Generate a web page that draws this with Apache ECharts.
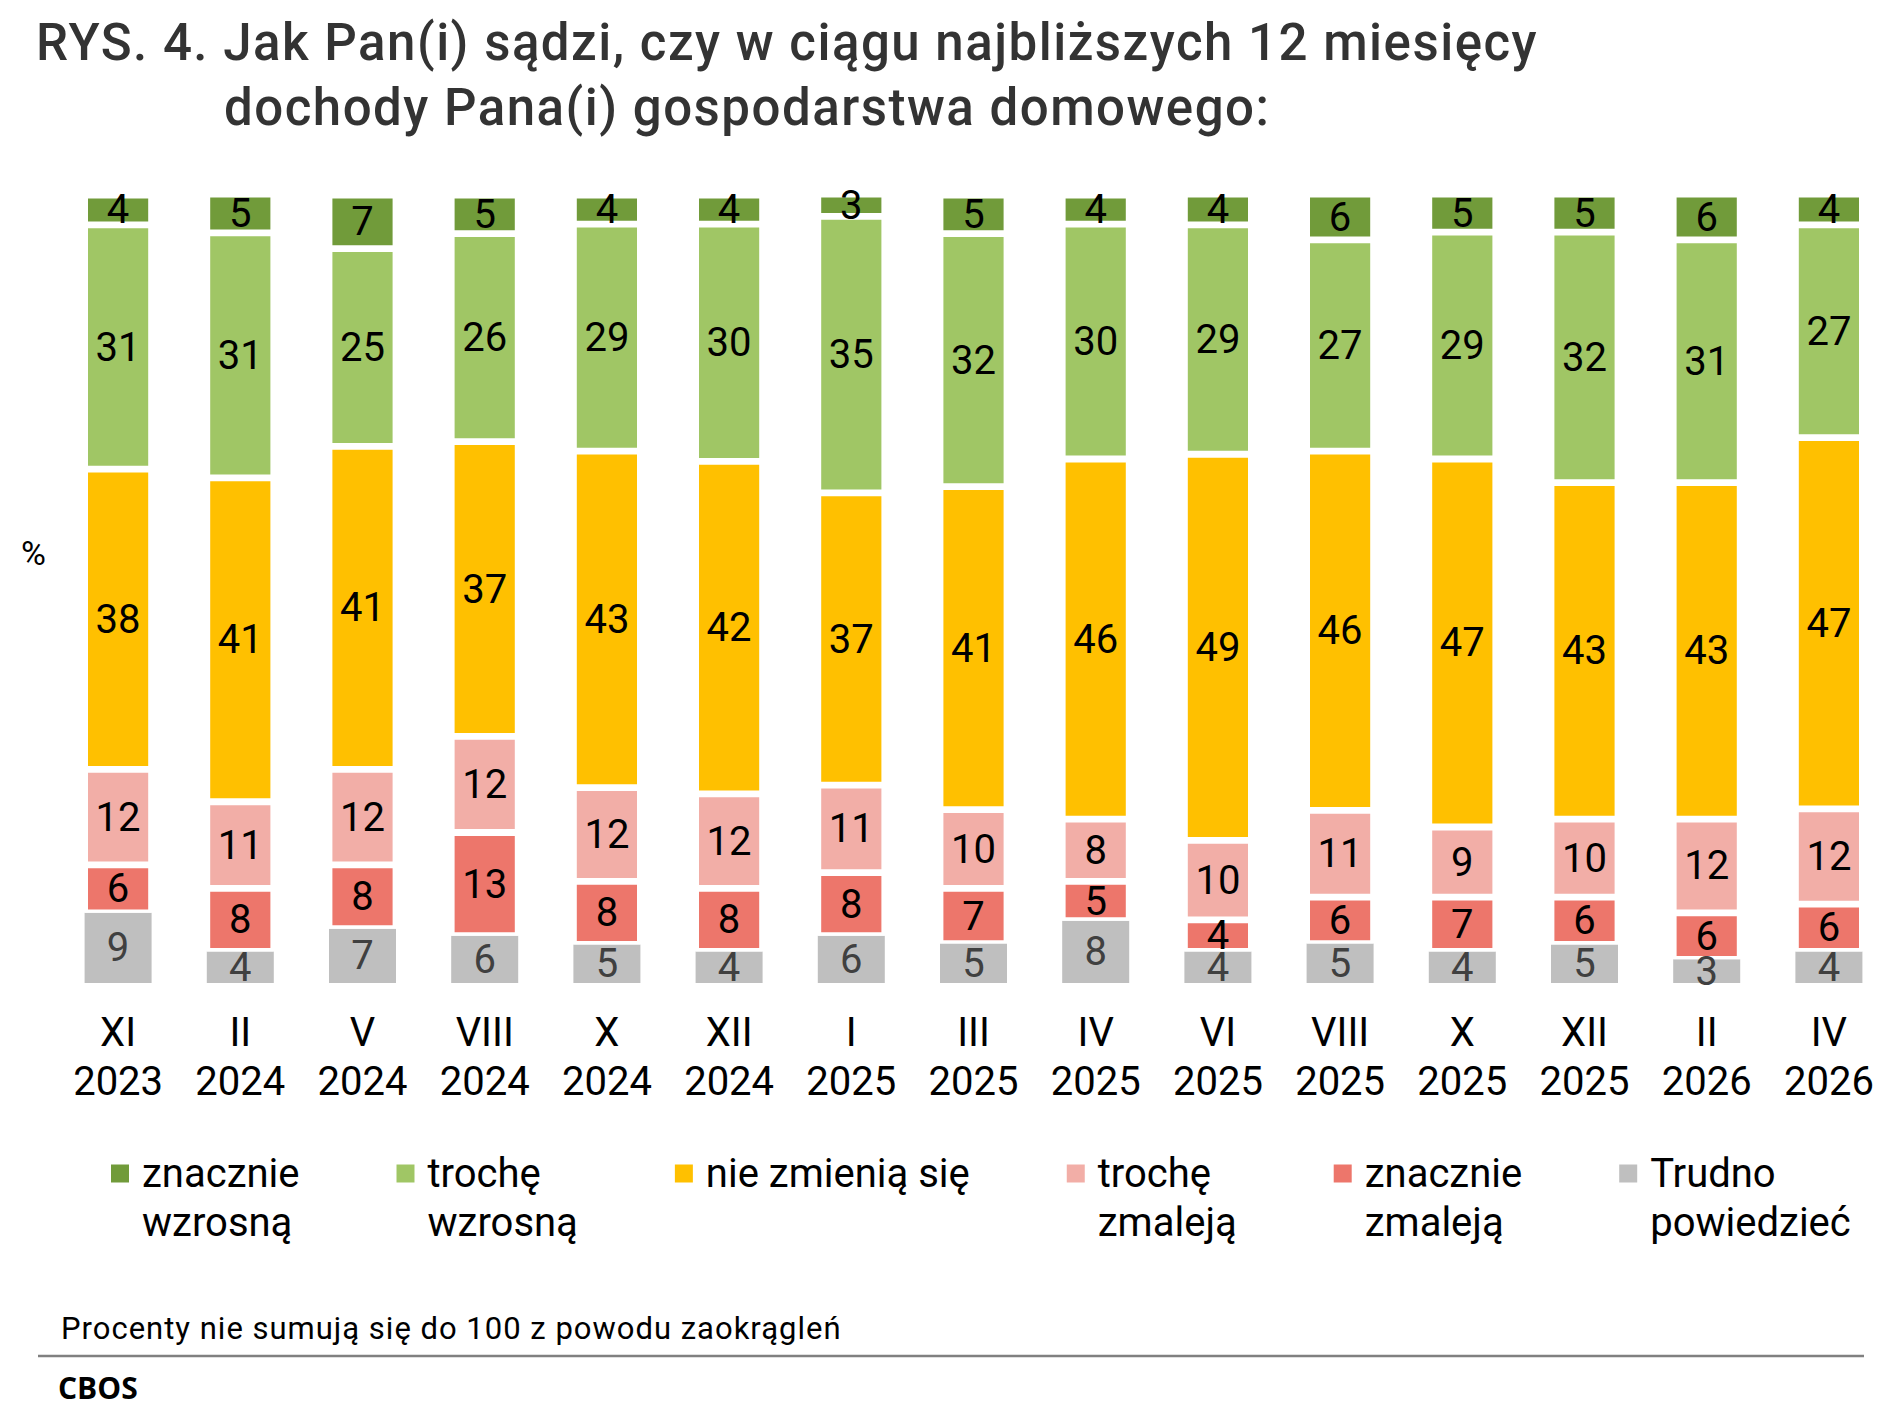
<!DOCTYPE html>
<html>
<head>
<meta charset="utf-8">
<script src="https://cdn.jsdelivr.net/npm/echarts@6/dist/echarts.min.js"></script>
<style>
  html, body { margin: 0; padding: 0; background: #fff; }
  #main { width: 1891px; height: 1416px; }
  /* tytuł i przypis w oryginale mają szerzej rozstawione litery */
  #main text[style*="51px"] { letter-spacing: 1.5px; }
  #main text[style*="31px"] { letter-spacing: 1px; }
</style>
</head>
<body>
<div id="main"></div>
<script>
// kategorie (miesiąc / rok badania)
const months = ['XI', 'II', 'V', 'VIII', 'X', 'XII', 'I', 'III', 'IV', 'VI', 'VIII', 'X', 'XII', 'II', 'IV']
const years = ['2023', '2024', '2024', '2024', '2024', '2024', '2025', '2025', '2025', '2025', '2025', '2025', '2025', '2026', '2026']

// odczytane udziały (%), etykiety pokazują wartości zaokrąglone
const znacznieWzrosna = [3.8, 4.9, 6.8, 4.9, 3.7, 3.7, 2.8, 4.9, 3.7, 3.9, 5.8, 4.8, 4.8, 5.8, 3.9]
const trocheWzrosna = [31.0, 31.1, 25.1, 26.4, 28.8, 30.1, 35.1, 32.1, 29.8, 29.1, 26.8, 28.8, 31.8, 30.8, 27.0]
const nieZmieniaSie = [38.1, 41.1, 41.0, 37.4, 42.7, 42.2, 37.1, 41.0, 45.7, 49.0, 45.6, 46.7, 42.7, 42.7, 47.1]
const trocheZmaleja = [12.1, 11.0, 12.1, 12.2, 11.9, 12.0, 11.1, 10.0, 7.9, 10.1, 11.0, 8.9, 9.9, 11.9, 12.1]
const znacznieZmaleja = [6.1, 8.0, 8.1, 13.1, 8.0, 8.0, 8.0, 7.0, 5.0, 4.0, 5.9, 6.9, 6.0, 5.9, 6.0]
const trudnoPowiedziec = [8.9, 4.0, 6.9, 6.0, 4.9, 4.0, 6.0, 5.0, 7.9, 4.0, 5.0, 4.0, 4.9, 3.0, 4.0]

// nazwy serii w kolejności legendy (od góry słupka)
const seriesNames = ['znacznie wzrosną', 'trochę wzrosną', 'nie zmienią się', 'trochę zmaleją', 'znacznie zmaleją', 'Trudno powiedzieć']
// pusta pierwsza linia -> znacznik legendy na wysokości pierwszego wiersza
const legendText = [' \nznacznie\nwzrosną', ' \ntrochę\nwzrosną', ' \nnie zmienią się\n ', ' \ntrochę\nzmaleją', ' \nznacznie\nzmaleją', ' \nTrudno\npowiedzieć']
const colors = ['#719B3A', '#A0C665', '#FFC000', '#F2AEA7', '#ED766B', '#BFBFBF']

const seriesData = [znacznieWzrosna, trocheWzrosna, nieZmieniaSie, trocheZmaleja, znacznieZmaleja, trudnoPowiedziec]

const font = 'Roboto'
const categories = months.map((m, i) => m + '\n' + years[i])

// stos rysowany od dołu: Trudno powiedzieć -> znacznie wzrosną
const series = []
for (let k = seriesNames.length - 1; k >= 0; k--) {
  const isGray = k === 5
  series.push({
    name: seriesNames[k],
    type: 'bar',
    stack: 'total',
    barWidth: 67,
    data: seriesData[k],
    itemStyle: {
      color: colors[k],
      borderColor: '#fff',
      borderWidth: isGray ? 0 : 3.4
    },
    label: {
      show: true,
      position: 'inside',
      fontFamily: font,
      fontSize: 40,
      color: isGray ? '#404040' : '#000',
      formatter: p => Math.round(p.value)
    }
  })
}

const chart = echarts.init(document.getElementById('main'), null, { renderer: 'svg' })
chart.setOption({
  backgroundColor: '#fff',
  animation: false,
  title: [
    {
      text: 'RYS. 4. Jak Pan(i) sądzi, czy w ciągu najbliższych 12 miesięcy',
      left: 36, top: 17, padding: 0,
      textStyle: { fontFamily: font, fontSize: 51, fontWeight: 500, color: '#333' }
    },
    {
      text: 'dochody Pana(i) gospodarstwa domowego:',
      left: 224, top: 82, padding: 0,
      textStyle: { fontFamily: font, fontSize: 51, fontWeight: 500, color: '#333' }
    }
  ],
  grid: { left: 57, right: 1, top: 195, bottom: 433 },
  xAxis: {
    type: 'category',
    data: categories,
    axisLine: { show: false },
    axisTick: { show: false },
    axisLabel: {
      interval: 0,
      margin: 25,
      fontFamily: font,
      fontSize: 40,
      lineHeight: 49,
      color: '#000'
    }
  },
  yAxis: {
    type: 'value',
    min: 0,
    max: 100,
    show: false
  },
  legend: {
    data: seriesNames,
    left: 111,
    top: 1100,
    padding: 0,
    itemGap: 97,
    itemWidth: 18,
    itemHeight: 18,
    icon: 'rect',
    selectedMode: false,
    itemStyle: { borderWidth: 0 },
    formatter: name => legendText[seriesNames.indexOf(name)],
    textStyle: {
      fontFamily: font,
      fontSize: 40,
      lineHeight: 49,
      color: '#000',
      padding: [0, 0, 0, 8]
    }
  },
  graphic: [
    {
      type: 'text',
      left: 21, top: 536,
      style: { text: '%', fontFamily: font, fontSize: 34, fill: '#000' }
    },
    {
      type: 'text',
      left: 61, top: 1313,
      style: { text: 'Procenty nie sumują się do 100 z powodu zaokrągleń', fontFamily: font, fontSize: 31, fill: '#000' }
    },
    {
      type: 'line',
      shape: { x1: 38, y1: 1356, x2: 1864, y2: 1356 },
      style: { stroke: '#808080', lineWidth: 2.5 }
    },
    {
      type: 'text',
      left: 58, top: 1372,
      style: { text: 'CBOS', fontFamily: 'Open Sans', fontWeight: 'bold', fontSize: 30, fill: '#000' }
    }
  ],
  series: series
})
</script>
</body>
</html>
